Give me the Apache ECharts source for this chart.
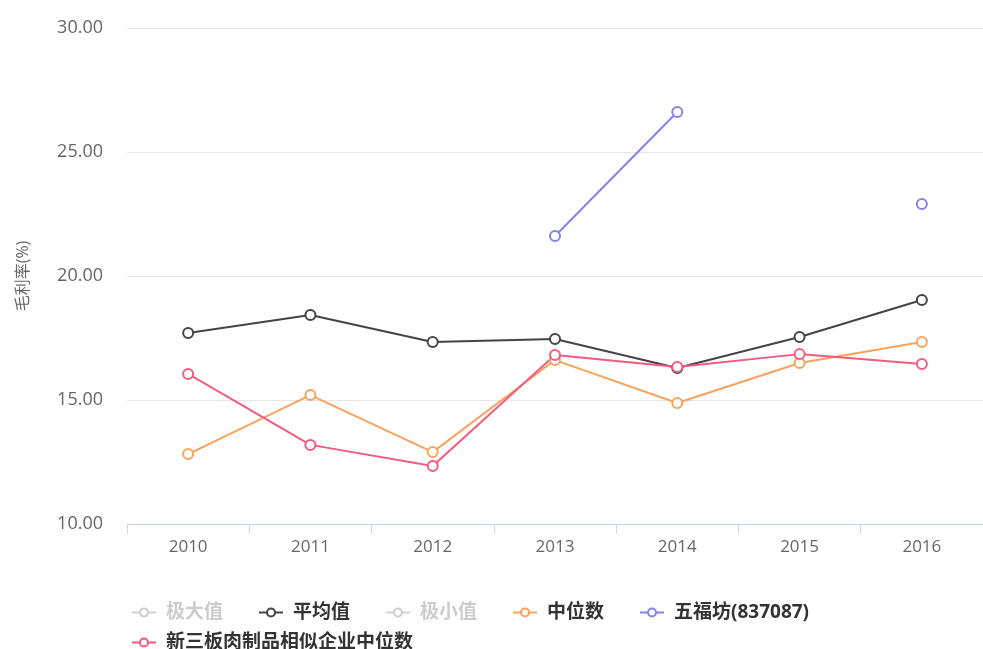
<!DOCTYPE html>
<html>
<head>
<meta charset="utf-8">
<script src="https://cdn.jsdelivr.net/npm/echarts@6/dist/echarts.min.js"></script>
<style>
  html, body { margin: 0; padding: 0; background: #fff; }
  #chart { width: 983px; height: 649px; }
</style>
</head>
<body>
<div id="chart"></div>
<script>
// 年份
const years = ['2010', '2011', '2012', '2013', '2014', '2015', '2016']

// 各系列毛利率(%)
const maxValues = []
const avgValues = [17.70, 18.43, 17.34, 17.46, 16.29, 17.54, 19.03]
const minValues = []
const medianValues = [12.82, 15.20, 12.90, 16.61, 14.88, 16.49, 17.34]
const wufufangValues = [null, null, null, 21.61, 26.61, null, 22.90]
const peerMedianValues = [16.05, 13.19, 12.34, 16.81, 16.33, 16.85, 16.45]

const font = '"Open Sans", "Noto Sans CJK SC", sans-serif'

const chart = echarts.init(document.getElementById('chart'))

function lineSeries(name, data, color) {
  return {
    name: name,
    type: 'line',
    data: data,
    symbol: 'emptyCircle',
    symbolSize: 10,
    itemStyle: { color: color, borderWidth: 2 },
    lineStyle: { color: color, width: 2 },
    animation: false
  }
}

const series = [
  lineSeries('极大值', maxValues, '#7cb5ec'),
  lineSeries('平均值', avgValues, '#434348'),
  lineSeries('极小值', minValues, '#90ed7d'),
  lineSeries('中位数', medianValues, '#f7a35c'),
  lineSeries('五福坊(837087)', wufufangValues, '#8085e9'),
  lineSeries('新三板肉制品相似企业中位数', peerMedianValues, '#f15c80')
]

// 图例分两行
const legendBase = {
  selected: { '极大值': false, '极小值': false },
  left: 126,
  orient: 'horizontal',
  itemWidth: 24,
  itemHeight: 10,
  itemGap: 35,
  inactiveColor: '#cccccc',
  textStyle: {
    fontFamily: font,
    fontSize: 19,
    fontWeight: 'bold',
    color: '#333333',
    padding: [0, 0, 0, 5]
  }
}

const option = {
  backgroundColor: '#fff',
  animation: false,
  grid: {
    left: 127,
    right: 0,
    top: 28,
    bottom: 125,
    containLabel: false
  },
  legend: [
    Object.assign({}, legendBase, { data: series.slice(0, 5).map(s => s.name), top: 598 }),
    Object.assign({}, legendBase, { data: [series[5].name], top: 628 })
  ],
  xAxis: {
    type: 'category',
    data: years,
    axisLine: { lineStyle: { color: '#ccd6eb' } },
    axisTick: { show: true, length: 10, lineStyle: { color: '#ccd6eb' } },
    axisLabel: {
      color: '#666666',
      fontFamily: font,
      fontSize: 17,
      margin: 15
    }
  },
  yAxis: {
    type: 'value',
    min: 10,
    max: 30,
    interval: 5,
    name: '毛利率(%)',
    nameLocation: 'middle',
    nameGap: 96,
    nameTextStyle: { color: '#666666', fontFamily: font, fontSize: 16 },
    axisLine: { show: false },
    axisTick: { show: false },
    axisLabel: {
      color: '#666666',
      fontFamily: font,
      fontSize: 18,
      margin: 24,
      formatter: v => v.toFixed(2)
    },
    splitLine: { lineStyle: { color: '#e6e6e6' } }
  },
  series: series
}

chart.setOption(option)
</script>
</body>
</html>
